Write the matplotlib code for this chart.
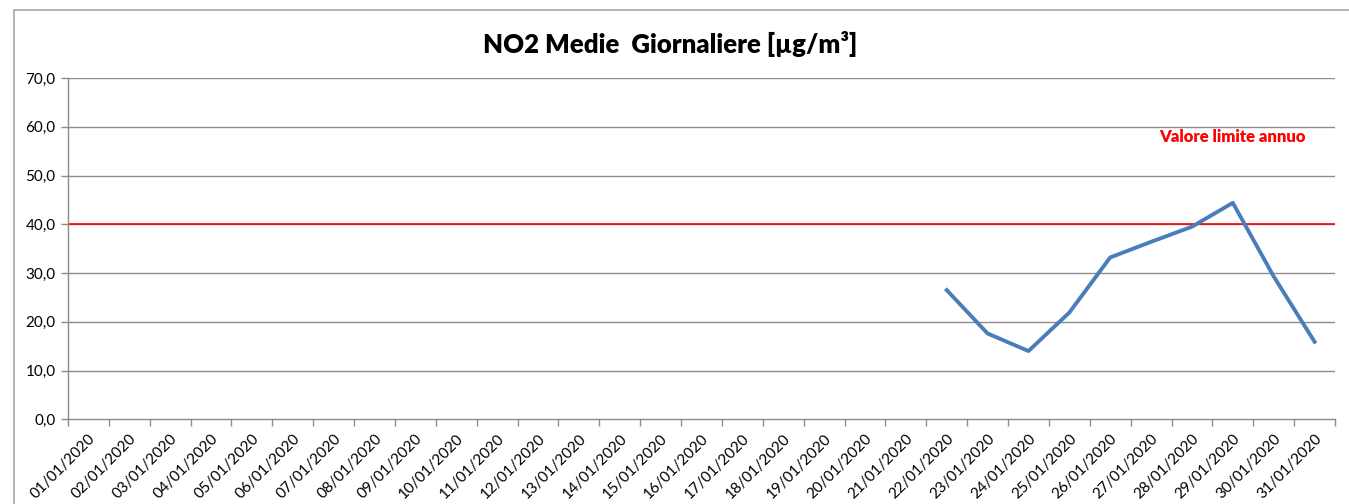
import numpy as np
import matplotlib.pyplot as plt
from matplotlib.patches import Rectangle

plt.rcParams['font.family'] = ['Lato', 'DejaVu Sans']

days = ["%02d/01/2020" % d for d in range(1, 32)]
no2 = [np.nan] * 21 + [26.5, 17.6, 14.0, 21.9, 33.2, 36.4, 39.5, 44.4, 29.3, 15.9]
limite = 40.0
y_ticks = [0, 10, 20, 30, 40, 50, 60, 70]

fig = plt.figure(figsize=(13.49, 5.04), dpi=100)
ax = fig.add_axes([68/1349, 1-419.3/504, (1335-68)/1349, (419.3-78)/504])

# chart border like excel
fig.patches.append(Rectangle((14/1349, -0.1), 1.2, 1-10/504+0.1, transform=fig.transFigure,
                             fill=False, edgecolor="#a6a6a6", linewidth=1.2))

x = np.arange(len(days))
for yv in y_ticks[1:]:
    ax.axhline(yv, color="#8c8c8c", linewidth=1, zorder=1)
ax.axhline(limite, color="red", linewidth=1.2, zorder=2)
ax.plot(x, no2, color="#4a7ebb", linewidth=2.8, zorder=3)

ax.text(28.0, 58, "Valore limite annuo", color="red", fontsize=12, fontweight="heavy",
        ha="center", va="center")

ax.set_xlim(-0.5, len(days) - 0.5)
ax.set_ylim(0, 70)
ax.set_yticks(y_ticks)
ax.yaxis.set_major_formatter(plt.FuncFormatter(lambda v, p: ("%.1f" % v).replace(".", ",")))
ax.set_xticks(x)
ax.set_xticklabels(days, rotation=45, ha="right", rotation_mode="anchor")
ax.set_xticks(np.arange(-0.5, len(days)), minor=True)
ax.tick_params(axis="x", which="major", length=0, pad=9, labelsize=11)
ax.tick_params(axis="x", which="minor", length=5, color="#8c8c8c", width=1)
ax.tick_params(axis="y", length=5, color="#8c8c8c", width=1, labelsize=11, pad=4)

for s in ["top", "right"]:
    ax.spines[s].set_visible(False)
for s in ["left", "bottom"]:
    ax.spines[s].set_color("#8c8c8c")
    ax.spines[s].set_linewidth(1)

fig.text(670/1349, 1-44/504, "NO2 Medie  Giornaliere [µg/m³]", fontsize=18.5, fontweight="heavy",
         ha="center", va="center")

fig.savefig("out.png", dpi=100)
